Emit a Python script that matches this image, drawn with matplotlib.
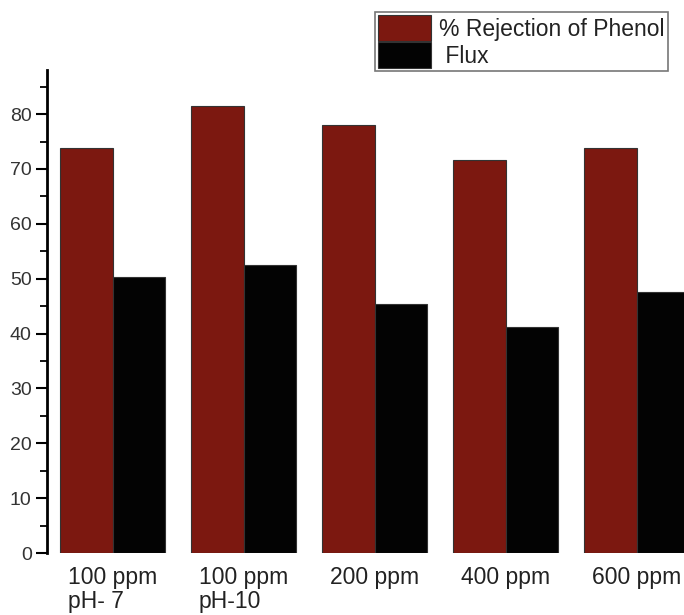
import numpy as np
from matplotlib import pyplot as plt
from matplotlib.ticker import MultipleLocator

plt.rcParams['font.family'] = ['Liberation Sans', 'DejaVu Sans']

# rejection and flux for each feed condition
labels = ['100 ppm\npH- 7', '100 ppm\npH-10', '200 ppm', '400 ppm', '600 ppm']
rejection = [73.8, 81.4, 78.0, 71.6, 73.8]
flux = [50.3, 52.5, 45.4, 41.2, 47.5]

maroon = '#7c1810'
x = np.arange(len(labels))
w = 0.4

fig = plt.figure(figsize=(6.84, 6.15), dpi=100)
ax = fig.add_axes([0.0687, 0.1008, 0.9313, 0.785])

ax.bar(x - w/2, rejection, w, color=maroon, edgecolor='#333333', linewidth=0.8,
       label='% Rejection of Phenol')
ax.bar(x + w/2, flux, w, color='#030303', edgecolor='#333333', linewidth=0.8,
       label=' Flux')

ax.set_xlim(-0.5, 4.36)
ax.set_ylim(0, 88)
ax.set_xticks(x)
ax.set_xticklabels(labels, fontsize=16.5, color='#222222', multialignment='left',
                   linespacing=1.1)
ax.tick_params(axis='x', length=0, pad=9)
ax.yaxis.set_major_locator(MultipleLocator(10))
ax.yaxis.set_minor_locator(MultipleLocator(5))
ax.tick_params(axis='y', which='major', length=8, width=1.5, labelsize=14,
               labelcolor='#333333', pad=3)
ax.tick_params(axis='y', which='minor', length=5, width=1.3)
for s in ['top', 'right', 'bottom']:
    ax.spines[s].set_visible(False)
ax.spines['left'].set_linewidth(2)

leg = fig.legend(loc='upper left', bbox_to_anchor=(375/684, 1 - 12/615),
                 fontsize=16.5, frameon=True, fancybox=False, handlelength=2.3,
                 handleheight=1.35, labelspacing=0.05, handletextpad=0.35,
                 borderpad=0.15, borderaxespad=0)
leg.get_frame().set_edgecolor('#555555')
leg.get_frame().set_linewidth(1.2)
for t in leg.get_texts():
    t.set_color('#222222')

fig.savefig('out.png', dpi=100)
